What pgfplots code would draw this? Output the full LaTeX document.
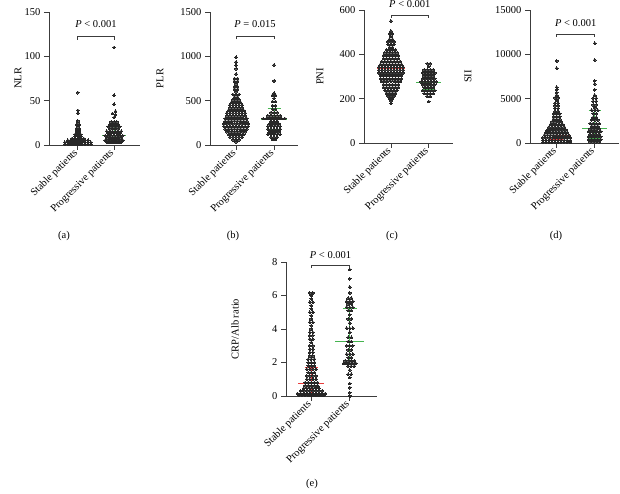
\documentclass[border=0pt]{standalone}
\usepackage{pgfplots}
\pgfplotsset{compat=1.18}
\usepackage{fontspec}
\setmainfont{Liberation Serif}
\newcommand{\fs}{\fontsize{10.5}{12}\selectfont}
\definecolor{dotc}{RGB}{40,40,40}
\definecolor{medred}{RGB}{232,60,60}
\definecolor{medgreen}{RGB}{70,180,80}
\definecolor{axc}{RGB}{60,60,60}
\pgfplotsset{
  swarm/.style={
    scale only axis,
    axis x line=bottom, axis y line=left,
    axis line style={axc, line width=0.8pt, -},
    xtick={0,1}, xticklabels={Stable patients, Progressive patients},
    xticklabel style={rotate=45, anchor=east, font=\fs, inner sep=2pt},
    yticklabel style={font=\fs},
    tick style={axc, line width=0.8pt},
    tick align=outside, major tick length=5pt,
    ymin=0, clip=false, scaled y ticks=false,
    ylabel style={font=\fs, anchor=center},
    /pgf/number format/1000 sep={},
    /pgf/number format/assume math mode=true,
  },
  dots/.style={only marks, mark=*, mark size=1.4pt, mark options={fill=dotc, draw=dotc, line width=0pt}},
  rl/.style={medred, line width=1pt},
  gl/.style={medgreen, line width=1pt},
}
\begin{document}
\begin{tikzpicture}
\useasboundingbox (0,0) rectangle (620pt,494pt);

% ---------------- (a) NLR
\begin{axis}[swarm, at={(49pt,349pt)}, anchor=south west, width=91pt, height=133pt,
  xmin=-0.8, xmax=1.72, ymax=150, ytick={0,50,100,150}, ylabel={NLR},
  ylabel style={at={(axis description cs:-0.341,0.5)}}]
\addplot[rl] coordinates {(-0.35,3)(0.35,3)};
\addplot[rl] coordinates {(-0.17,6)(0.17,6)};
\addplot[gl] coordinates {(0.67,10.5)(1.33,10.5)};
\addplot[gl] coordinates {(0.83,20.6)(1.17,20.6)};
\addplot[gl] coordinates {(0.83,5)(1.17,5)};
\addplot[gl] coordinates {(1,5)(1,20.6)};
\addplot[dots] coordinates {
(-.36,0.8)(-.28,0.8)(-.2,0.8)(-.12,0.8)(-.04,0.8)(.04,0.8)(.12,0.8)(.2,0.8)(.28,0.8)(.36,0.8)
(-.36,3)(-.28,3)(-.2,3)(-.12,3)(-.04,3)(.04,3)(.12,3)(.2,3)(.28,3)(.36,3)
(-.28,5.2)(-.2,5.2)(-.12,5.2)(-.04,5.2)(.04,5.2)(.12,5.2)(.2,5.2)(.28,5.2)
(-.16,7.4)(-.08,7.4)(0,7.4)(.08,7.4)(.16,7.4)
(-.08,9.6)(0,9.6)(.08,9.6)(-.08,11.8)(0,11.8)(.08,11.8)
(-.04,14)(.04,14)(-.04,16.2)(.04,16.2)(-.04,18.4)(.04,18.4)(0,20.6)(-.04,22.8)(.04,22.8)
(0,25)(0,27.2)(0,36)(0,39)(0,59)
};
\addplot[dots] coordinates {
(1,110)(1,56)(1,46)(1.04,38)(.96,35.5)(1.04,34)(1,31)
(.92,26)(1,26)(1.08,26)
(.88,23)(.96,23)(1.04,23)(1.12,23)
(.84,20.5)(.92,20.5)(1,20.5)(1.08,20.5)(1.16,20.5)
(.88,18)(.96,18)(1.04,18)(1.12,18)
(.8,15.5)(.88,15.5)(.96,15.5)(1.04,15.5)(1.12,15.5)(1.2,15.5)
(.84,13)(.92,13)(1,13)(1.08,13)(1.16,13)
(.76,10.5)(.84,10.5)(.92,10.5)(1,10.5)(1.08,10.5)(1.16,10.5)(1.24,10.5)
(.8,8)(.88,8)(.96,8)(1.04,8)(1.12,8)(1.2,8)
(.76,5.5)(.84,5.5)(.92,5.5)(1,5.5)(1.08,5.5)(1.16,5.5)(1.24,5.5)
(.8,3)(.88,3)(.96,3)(1.04,3)(1.12,3)(1.2,3)
};
\draw[axc, line width=0.8pt] (axis cs:0,118.5) -- (axis cs:0,122) -- (axis cs:1,122) -- (axis cs:1,118.5);
\node[font=\fs] at (axis cs:0.5,136) {\textit{P} < 0.001};
\end{axis}

% ---------------- (b) PLR
\begin{axis}[swarm, at={(210pt,349pt)}, anchor=south west, width=88pt, height=133pt,
  xmin=-0.684, xmax=1.63, ymax=1500, ytick={0,500,1000,1500}, ylabel={PLR},
  ylabel style={at={(axis description cs:-0.568,0.5)}}]
\addplot[rl] coordinates {(-0.36,207)(0.36,207)};
\addplot[rl] coordinates {(-0.17,300)(0.17,300)};
\addplot[rl] coordinates {(-0.17,150)(0.17,150)};
\addplot[gl] coordinates {(0.67,290)(1.33,290)};
\addplot[gl] coordinates {(0.83,412)(1.17,412)};
\addplot[gl] coordinates {(0.83,170)(1.17,170)};
\addplot[gl] coordinates {(1,170)(1,412)};
\addplot[dots] coordinates {
(0,990)(0,935)(0,900)(0,860)(0,800)
(-.04,750)(.04,750)(-.04,720)(.04,720)(0,690)(-.04,660)(.04,660)(-.04,630)(.04,630)(0,600)
(-.08,570)(0,570)(.08,570)(-.04,540)(.04,540)(-.08,510)(0,510)(.08,510)
(-.12,480)(-.04,480)(.04,480)(.12,480)
(-.16,450)(-.08,450)(0,450)(.08,450)(.16,450)
(-.16,420)(-.08,420)(0,420)(.08,420)(.16,420)
(-.2,390)(-.12,390)(-.04,390)(.04,390)(.12,390)(.2,390)
(-.24,360)(-.16,360)(-.08,360)(0,360)(.08,360)(.16,360)(.24,360)
(-.24,330)(-.16,330)(-.08,330)(0,330)(.08,330)(.16,330)(.24,330)
(-.28,300)(-.2,300)(-.12,300)(-.04,300)(.04,300)(.12,300)(.2,300)(.28,300)
(-.28,270)(-.2,270)(-.12,270)(-.04,270)(.04,270)(.12,270)(.2,270)(.28,270)
(-.32,240)(-.24,240)(-.16,240)(-.08,240)(0,240)(.08,240)(.16,240)(.24,240)(.32,240)
(-.32,210)(-.24,210)(-.16,210)(-.08,210)(0,210)(.08,210)(.16,210)(.24,210)(.32,210)
(-.28,180)(-.2,180)(-.12,180)(-.04,180)(.04,180)(.12,180)(.2,180)(.28,180)
(-.24,150)(-.16,150)(-.08,150)(0,150)(.08,150)(.16,150)(.24,150)
(-.2,120)(-.12,120)(-.04,120)(.04,120)(.12,120)(.2,120)
(-.16,90)(-.08,90)(0,90)(.08,90)(.16,90)
(-.08,60)(0,60)(.08,60)(0,38)
};
\addplot[dots] coordinates {
(1,902)(1,722)(1,585)(.96,560)(1.04,560)(1,525)(.96,490)(1.04,490)(.96,445)(1.04,445)(.96,405)(1.04,405)
(.92,365)(1,365)(1.08,365)
(.84,330)(.92,330)(1,330)(1.08,330)(1.16,330)
(.72,298)(.8,298)(.88,298)(.96,298)(1.04,298)(1.12,298)(1.2,298)(1.28,298)
(.92,268)(1,268)(1.08,268)
(.88,240)(.96,240)(1.04,240)(1.12,240)
(.84,210)(.92,210)(1,210)(1.08,210)(1.16,210)
(.84,180)(.92,180)(1,180)(1.08,180)(1.16,180)
(.88,150)(.96,150)(1.04,150)(1.12,150)
(.84,120)(.92,120)(1,120)(1.08,120)(1.16,120)
(.92,90)(1,90)(1.08,90)
(.96,65)(1.04,65)
};
\draw[axc, line width=0.8pt] (axis cs:0,1192) -- (axis cs:0,1229) -- (axis cs:1,1229) -- (axis cs:1,1192);
\node[font=\fs] at (axis cs:0.5,1365) {\textit{P} = 0.015};
\end{axis}

% ---------------- (c) PNI
\begin{axis}[swarm, at={(364pt,351pt)}, anchor=south west, width=89pt, height=133pt,
  xmin=-0.716, xmax=1.645, ymax=600, ytick={0,200,400,600}, ylabel={PNI},
  ylabel style={at={(axis description cs:-0.494,0.5)}}]
\addplot[rl] coordinates {(-0.36,335)(0.36,335)};
\addplot[rl] coordinates {(-0.17,364)(0.17,364)};
\addplot[rl] coordinates {(-0.17,290)(0.17,290)};
\addplot[gl] coordinates {(0.67,272)(1.33,272)};
\addplot[gl] coordinates {(0.83,305)(1.17,305)};
\addplot[gl] coordinates {(0.83,243)(1.17,243)};
\addplot[dots] coordinates {
(0,550)(0,505)(-.04,493)(.04,493)(0,480)(-.04,468)(.04,468)
(-.08,456)(0,456)(.08,456)(-.08,444)(0,444)(.08,444)(-.04,432)(.04,432)
(-.12,420)(-.04,420)(.04,420)(.12,420)
(-.16,407)(-.08,407)(0,407)(.08,407)(.16,407)
(-.2,394)(-.12,394)(-.04,394)(.04,394)(.12,394)(.2,394)
(-.2,381)(-.12,381)(-.04,381)(.04,381)(.12,381)(.2,381)
(-.24,368)(-.16,368)(-.08,368)(0,368)(.08,368)(.16,368)(.24,368)
(-.28,355)(-.2,355)(-.12,355)(-.04,355)(.04,355)(.12,355)(.2,355)(.28,355)
(-.32,342)(-.24,342)(-.16,342)(-.08,342)(0,342)(.08,342)(.16,342)(.24,342)(.32,342)
(-.32,329)(-.24,329)(-.16,329)(-.08,329)(0,329)(.08,329)(.16,329)(.24,329)(.32,329)
(-.32,316)(-.24,316)(-.16,316)(-.08,316)(0,316)(.08,316)(.16,316)(.24,316)(.32,316)
(-.28,303)(-.2,303)(-.12,303)(-.04,303)(.04,303)(.12,303)(.2,303)(.28,303)
(-.28,290)(-.2,290)(-.12,290)(-.04,290)(.04,290)(.12,290)(.2,290)(.28,290)
(-.24,277)(-.16,277)(-.08,277)(0,277)(.08,277)(.16,277)(.24,277)
(-.2,264)(-.12,264)(-.04,264)(.04,264)(.12,264)(.2,264)
(-.2,251)(-.12,251)(-.04,251)(.04,251)(.12,251)(.2,251)
(-.16,238)(-.08,238)(0,238)(.08,238)(.16,238)
(-.12,225)(-.04,225)(.04,225)(.12,225)
(-.08,212)(0,212)(.08,212)
(-.04,200)(.04,200)(0,190)(0,178)
};
\addplot[dots] coordinates {
(.96,358)(1.04,358)(1,345)
(.88,330)(.96,330)(1.04,330)(1.12,330)
(.84,316)(.92,316)(1,316)(1.08,316)(1.16,316)
(.88,303)(.96,303)(1.04,303)(1.12,303)
(.84,290)(.92,290)(1,290)(1.08,290)(1.16,290)
(.8,276)(.88,276)(.96,276)(1.04,276)(1.12,276)(1.2,276)
(.84,263)(.92,263)(1,263)(1.08,263)(1.16,263)
(.88,250)(.96,250)(1.04,250)(1.12,250)
(.84,237)(.92,237)(1,237)(1.08,237)(1.16,237)
(.88,223)(.96,223)(1.04,223)(1.12,223)
(.96,210)(1.04,210)(1,187)
};
\draw[axc, line width=0.8pt] (axis cs:0,563) -- (axis cs:0,577) -- (axis cs:1,577) -- (axis cs:1,563);
\node[font=\fs] at (axis cs:0.5,625) {\textit{P} < 0.001};
\end{axis}

% ---------------- (d) SII
\begin{axis}[swarm, at={(530pt,351pt)}, anchor=south west, width=89pt, height=133pt,
  xmin=-0.70, xmax=1.64, ymax=15000, ytick={0,5000,10000,15000}, ylabel={SII},
  ylabel style={at={(axis description cs:-0.697,0.5)}}]
\addplot[rl] coordinates {(-0.34,830)(0.34,830)};
\addplot[rl] coordinates {(-0.17,1650)(0.17,1650)};
\addplot[rl] coordinates {(-0.17,350)(0.17,350)};
\addplot[gl] coordinates {(0.67,1660)(1.33,1660)};
\addplot[gl] coordinates {(0.84,3720)(1.16,3720)};
\addplot[gl] coordinates {(0.84,500)(1.16,500)};
\addplot[gl] coordinates {(1,500)(1,3720)};
\addplot[dots] coordinates {
(0,9250)(0,8450)(0,6300)(0,6000)(0,5700)(0,5400)(-.04,5100)(.04,5100)(0,4800)
(-.04,4500)(.04,4500)(-.04,4200)(.04,4200)(-.04,3900)(.04,3900)(-.04,3600)(.04,3600)
(-.08,3300)(0,3300)(.08,3300)(-.08,3000)(0,3000)(.08,3000)(-.08,2700)(0,2700)(.08,2700)
(-.12,2400)(-.04,2400)(.04,2400)(.12,2400)
(-.16,2100)(-.08,2100)(0,2100)(.08,2100)(.16,2100)
(-.2,1800)(-.12,1800)(-.04,1800)(.04,1800)(.12,1800)(.2,1800)
(-.24,1500)(-.16,1500)(-.08,1500)(0,1500)(.08,1500)(.16,1500)(.24,1500)
(-.28,1200)(-.2,1200)(-.12,1200)(-.04,1200)(.04,1200)(.12,1200)(.2,1200)(.28,1200)
(-.32,900)(-.24,900)(-.16,900)(-.08,900)(0,900)(.08,900)(.16,900)(.24,900)(.32,900)
(-.36,600)(-.28,600)(-.2,600)(-.12,600)(-.04,600)(.04,600)(.12,600)(.2,600)(.28,600)(.36,600)
(-.36,300)(-.28,300)(-.2,300)(-.12,300)(-.04,300)(.04,300)(.12,300)(.2,300)(.28,300)(.36,300)
(-.36,80)(-.28,80)(-.2,80)(-.12,80)(-.04,80)(.04,80)(.12,80)(.2,80)(.28,80)(.36,80)
};
\addplot[dots] coordinates {
(1,11250)(1,9360)(1,7000)(1,6650)(1,6000)(1,5400)(.96,5050)(1.04,5050)(.96,4700)(1.04,4700)
(.96,4300)(1.04,4300)(1,3950)(.92,3700)(1,3700)(1.08,3700)
(.96,3300)(1.04,3300)(.96,2900)(1.04,2900)(.92,2600)(1,2600)(1.08,2600)
(.88,2200)(.96,2200)(1.04,2200)(1.12,2200)(.92,1900)(1,1900)(1.08,1900)
(.88,1600)(.96,1600)(1.04,1600)(1.12,1600)
(.84,1300)(.92,1300)(1,1300)(1.08,1300)(1.16,1300)
(.88,1000)(.96,1000)(1.04,1000)(1.12,1000)
(.84,700)(.92,700)(1,700)(1.08,700)(1.16,700)
(.84,400)(.92,400)(1,400)(1.08,400)(1.16,400)
(.88,120)(.96,120)(1.04,120)(1.12,120)
};
\draw[axc, line width=0.8pt] (axis cs:0,11955) -- (axis cs:0,12295) -- (axis cs:1,12295) -- (axis cs:1,11955);
\node[font=\fs] at (axis cs:0.5,13536) {\textit{P} < 0.001};
\end{axis}

% ---------------- (e) CRP/Alb
\begin{axis}[swarm, at={(286pt,98pt)}, anchor=south west, width=91pt, height=134pt,
  xmin=-0.66, xmax=1.71, ymax=8, ytick={0,2,4,6,8}, ylabel={CRP/Alb ratio},
  ylabel style={at={(axis description cs:-0.56,0.5)}}]
\addplot[rl] coordinates {(-0.34,0.72)(0.34,0.72)};
\addplot[rl] coordinates {(-0.17,1.69)(0.17,1.69)};
\addplot[rl] coordinates {(0,0.05)(0,1.69)};
\addplot[gl] coordinates {(0.62,3.28)(1.38,3.28)};
\addplot[gl] coordinates {(0.82,5.25)(1.18,5.25)};
\addplot[gl] coordinates {(0.82,1.95)(1.18,1.95)};
\addplot[gl] coordinates {(1,1.95)(1,5.25)};
\addplot[dots] coordinates {
(-.04,6.15)(.04,6.15)(0,6.0)(0,5.8)(-.04,5.6)(.04,5.6)(0,5.4)(0,5.2)(-.04,5.0)(.04,5.0)(0,4.8)(0,4.6)
(-.04,4.4)(.04,4.4)(0,4.2)(0,4.0)(-.04,3.8)(.04,3.8)(-.04,3.6)(.04,3.6)(-.04,3.4)(.04,3.4)(0,3.2)
(-.04,3.0)(.04,3.0)(-.04,2.8)(.04,2.8)(-.04,2.6)(.04,2.6)(-.04,2.4)(.04,2.4)
(-.08,2.2)(0,2.2)(.08,2.2)(-.08,2.0)(0,2.0)(.08,2.0)(-.08,1.8)(0,1.8)(.08,1.8)
(-.12,1.6)(-.04,1.6)(.04,1.6)(.12,1.6)(-.08,1.4)(0,1.4)(.08,1.4)
(-.12,1.2)(-.04,1.2)(.04,1.2)(.12,1.2)(-.12,1.0)(-.04,1.0)(.04,1.0)(.12,1.0)
(-.16,0.8)(-.08,0.8)(0,0.8)(.08,0.8)(.16,0.8)
(-.16,0.62)(-.08,0.62)(0,0.62)(.08,0.62)(.16,0.62)
(-.2,0.46)(-.12,0.46)(-.04,0.46)(.04,0.46)(.12,0.46)(.2,0.46)
(-.28,0.3)(-.2,0.3)(-.12,0.3)(-.04,0.3)(.04,0.3)(.12,0.3)(.2,0.3)(.28,0.3)
(-.36,0.15)(-.28,0.15)(-.2,0.15)(-.12,0.15)(-.04,0.15)(.04,0.15)(.12,0.15)(.2,0.15)(.28,0.15)(.36,0.15)
(-.32,0.04)(-.24,0.04)(-.16,0.04)(-.08,0.04)(0,0.04)(.08,0.04)(.16,0.04)(.24,0.04)(.32,0.04)
};
\addplot[dots] coordinates {
(1,7.55)(1,7.0)(1,6.5)(1,6.15)(.96,5.85)(1.04,5.85)(.92,5.65)(1,5.65)(1.08,5.65)(.96,5.5)(1.04,5.5)
(.92,5.3)(1,5.3)(1.08,5.3)(.96,5.1)(1.04,5.1)(1,4.85)(.96,4.6)(1.04,4.6)(1,4.35)
(.92,4.05)(1,4.05)(1.08,4.05)(1,3.8)(.96,3.5)(1.04,3.5)(.96,3.25)(1.04,3.25)
(.92,3.0)(1,3.0)(1.08,3.0)(.96,2.75)(1.04,2.75)(.92,2.5)(1,2.5)(1.08,2.5)(.96,2.3)(1.04,2.3)
(.88,2.1)(.96,2.1)(1.04,2.1)(1.12,2.1)(.84,1.95)(.92,1.95)(1,1.95)(1.08,1.95)(1.16,1.95)
(.96,1.78)(1.04,1.78)(1.12,1.78)
(1,1.55)(.96,1.3)(1.04,1.3)(1,1.1)(1,0.75)(1,0.5)(1,0.2)(1,0.0)
};
\draw[axc, line width=0.8pt] (axis cs:0,7.64) -- (axis cs:0,7.82) -- (axis cs:1,7.82) -- (axis cs:1,7.64);
\node[font=\fs] at (axis cs:0.5,8.39) {\textit{P} < 0.001};
\end{axis}

% panel labels
\node[font=\fs] at (64pt,258pt) {(a)};
\node[font=\fs] at (233pt,258pt) {(b)};
\node[font=\fs] at (392pt,258pt) {(c)};
\node[font=\fs] at (556pt,258pt) {(d)};
\node[font=\fs] at (312pt,10pt) {(e)};
\end{tikzpicture}
\end{document}
